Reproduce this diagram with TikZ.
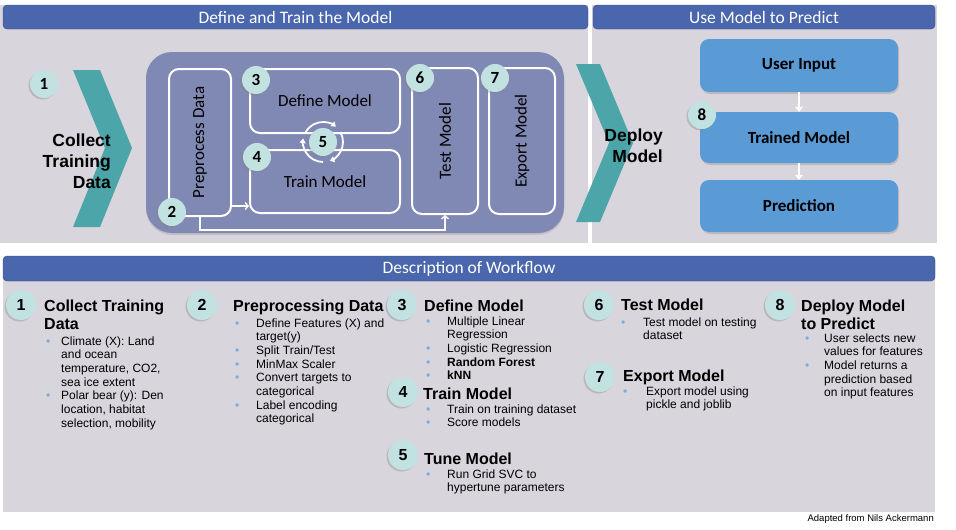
\documentclass[tikz,border=0pt]{standalone}
\usepackage{fontspec}
\setmainfont{Liberation Sans}
\newfontfamily\carl{Carlito}
\usetikzlibrary{arrows.meta}
\usetikzlibrary{shadows}

\definecolor{hdrblue}{HTML}{4A66AC}
\definecolor{bggray}{HTML}{D9D5DD}
\definecolor{slate}{HTML}{8088B4}
\definecolor{chevteal}{HTML}{4CA5A9}
\definecolor{numteal}{HTML}{C2E1E1}
\definecolor{boxblue}{HTML}{5B9BD5}
\definecolor{bulblue}{HTML}{7FA9DC}

\newcommand{\stack}[1]{\begin{tabular}[t]{@{}l@{}}#1\end{tabular}}
\newcommand{\items}[2]{\begin{tabular}[t]{@{}p{#1}@{}l@{}}#2\end{tabular}}
\newcommand{\bl}{\textcolor{bulblue}{\textbullet}}

\begin{document}
\begin{tikzpicture}[x=1pt,y=-1pt]
  \tikzset{head/.style = {fill=hdrblue, draw=hdrblue!75!black, rounded corners=4pt, text=white, inner sep=0pt, font=\carl\fontsize{17.5}{20}\selectfont}}
  \tikzset{grp/.style = {fill=slate, rounded corners=26pt, minimum width=418pt, minimum height=181pt, drop shadow={shadow xshift=0pt, shadow yshift=-2pt, opacity=.25}}}
  \tikzset{wbox/.style = {draw=white, line width=2pt, rounded corners=10pt, inner sep=0pt}}
  \tikzset{lbl/.style = {inner sep=0pt, font=\carl\fontsize{17}{20}\selectfont}}
  \tikzset{bbox/.style = {fill=boxblue, rounded corners=9pt, minimum width=198pt, inner sep=0pt, font=\carl\bfseries\fontsize{17}{20}\selectfont, drop shadow={shadow xshift=1pt, shadow yshift=-2pt, opacity=.3}}}
  \tikzset{num/.style = {shape=circle, fill=numteal, minimum size=28pt, inner sep=0pt, font=\carl\bfseries\fontsize{17}{20}\selectfont, drop shadow={shadow xshift=-1.5pt, shadow yshift=-1.5pt, opacity=.35}}}
  \tikzset{bnum/.style = {num, minimum size=30pt, font=\bfseries\fontsize{16}{18}\selectfont}}
  \tikzset{big/.style = {anchor=east, align=right, inner sep=0pt, font=\bfseries\fontsize{17.5}{21}\selectfont}}
  \tikzset{hd/.style = {anchor=base west, inner sep=0pt, font=\bfseries\fontsize{16}{18.5}\selectfont}}
  \tikzset{txt/.style = {anchor=base west, inner sep=0pt, font=\fontsize{12}{13.7}\selectfont}}
  \tikzset{warr/.style = {draw=white, line width=1.4pt, -{Straight Barb[length=3pt,width=7pt]}}}
  \tikzset{darr/.style = {draw=white, line width=2.2pt, -{Triangle[length=5pt,width=8pt]}}}
  \tikzset{cyc/.style = {draw=white, line width=1.8pt, -{Triangle[length=4.5pt,width=6pt]}}}

  \fill[white] (0,0) rectangle (956,530);
  \useasboundingbox (0,0) rectangle (956,530);

  \fill[bggray] (0,5) rectangle (588,243);
  \fill[bggray] (592,5) rectangle (937,243);
  \fill[bggray] (3,268) rectangle (935,512);

  \node[head, minimum width=585pt, minimum height=24pt] (hl) at (295.5,17) {Define and Train the Model};
  \node[head, minimum width=342pt, minimum height=24pt] (hr) at (764,17) {Use Model to Predict};
  \node[head, minimum width=932pt, minimum height=25pt] (hb) at (469,268.5) {Description of Workflow};

  \fill[chevteal] (73,70) -- (100,70) -- (132,148) -- (100,227) -- (73,227) -- (105,148) -- cycle;
  \fill[chevteal] (576,64) -- (600,64) -- (633,143) -- (600,222) -- (576,222) -- (609,143) -- cycle;
  \node[big] (ctd) at (111,161) {Collect\\Training\\Data};
  \node[big] (dpl) at (663,146) {Deploy\\Model};

  \node[grp] (grp) at (355,142.5) {};
  \node[wbox, minimum width=62pt, minimum height=147pt] (pre) at (200,142.5) {};
  \node[wbox, minimum width=150pt, minimum height=64pt] (def) at (325,101) {};
  \node[wbox, minimum width=150pt, minimum height=63pt] (trn) at (325,181.5) {};
  \node[wbox, minimum width=66pt, minimum height=146pt] (tst) at (445,141) {};
  \node[wbox, minimum width=66pt, minimum height=146pt] (exp) at (522,141) {};
  \node[lbl, rotate=90] (prel) at (pre) {Preprocess Data};
  \node[lbl] (defl) at (def) {Define Model};
  \node[lbl] (trnl) at (trn) {Train Model};
  \node[lbl, rotate=90] (tstl) at (tst) {Test Model};
  \node[lbl, rotate=90] (expl) at (exp) {Export Model};

  \draw[warr] ([yshift=11pt]pre.south east) -- ([yshift=8pt]trn.south west);
  \draw[warr] (pre.south) -- ++(0,13) -| (tst.south);

  \node[bbox, minimum height=53pt] (ui) at (799,65.5) {User Input};
  \node[bbox, minimum height=51pt] (tm) at (799,137.5) {Trained Model};
  \node[bbox, minimum height=52pt] (pr) at (799,206) {Prediction};
  \draw[darr] (ui) -- (tm);
  \draw[darr] (tm) -- (pr);

  \foreach \n/\x/\y in {1/44/84, 2/172/212, 3/256/80, 4/257/157, 5/323/142, 6/420/78, 7/495/78, 8/702/115}
    \node[num] (t\n) at (\x,\y) {\n};
  \foreach \a in {150, 30, -90}
    \draw[cyc] ([shift={(\a:20pt)}]t5.center) arc[start angle=\a, end angle=\a-100, radius=20pt];

  \foreach \n/\x/\y in {1/21/305, 2/202/305, 3/402/305, 4/403/392, 5/403/455, 6/599/305, 7/600/377, 8/780/305}
    \node[bnum] (b\n) at (\x,\y) {\n};

  \node[hd] (h1) at (44,311) {\stack{Collect Training\\Data}};
  \node[hd] (h2) at (233,311) {Preprocessing Data};
  \node[hd] (h3) at (424,311) {Define Model};
  \node[hd] (h4) at (423,399) {Train Model};
  \node[hd] (h5) at (424,464) {Tune Model};
  \node[hd] (h6) at (621,310) {Test Model};
  \node[hd] (h7) at (623,381) {Export Model};
  \node[hd] (h8) at (801,311) {\stack{Deploy Model\\to Predict}};

  \node[txt] (l1) at (46,345) {\items{15pt}{\bl & Climate (X): Land\\ & and ocean\\ & temperature, CO2,\\ & sea ice extent\\ \bl & Polar bear (y): Den\\ & location, habitat\\ & selection, mobility}};
  \node[txt] (l2) at (235,327) {\items{21pt}{\bl & Define Features (X) and\\ & target(y)\\ \bl & Split Train/Test\\ \bl & MinMax Scaler\\ \bl & Convert targets to\\ & categorical\\ \bl & Label encoding\\ & categorical}};
  \node[txt] (l3) at (426,325) {\items{21pt}{\bl & Multiple Linear\\ & Regression\\ \bl & Logistic Regression\\ \bl & \textbf{Random Forest}\\ \bl & \textbf{kNN}}};
  \node[txt] (l4) at (426,413) {\items{21pt}{\bl & Train on training dataset\\ \bl & Score models}};
  \node[txt] (l5) at (426,478) {\items{21pt}{\bl & Run Grid SVC to\\ & hypertune parameters}};
  \node[txt] (l6) at (621,326) {\items{22pt}{\bl & Test model on testing\\ & dataset}};
  \node[txt] (l7) at (623,395) {\items{23pt}{\bl & Export model using\\ & pickle and joblib}};
  \node[txt] (l8) at (805,342) {\items{19pt}{\bl & User selects new\\ & values for features\\ \bl & Model returns a\\ & prediction based\\ & on input features}};

  \node[anchor=base east, inner sep=0pt, font=\fontsize{9.5}{11}\selectfont] (src) at (934,521) {Adapted from Nils Ackermann};
\end{tikzpicture}
\end{document}
